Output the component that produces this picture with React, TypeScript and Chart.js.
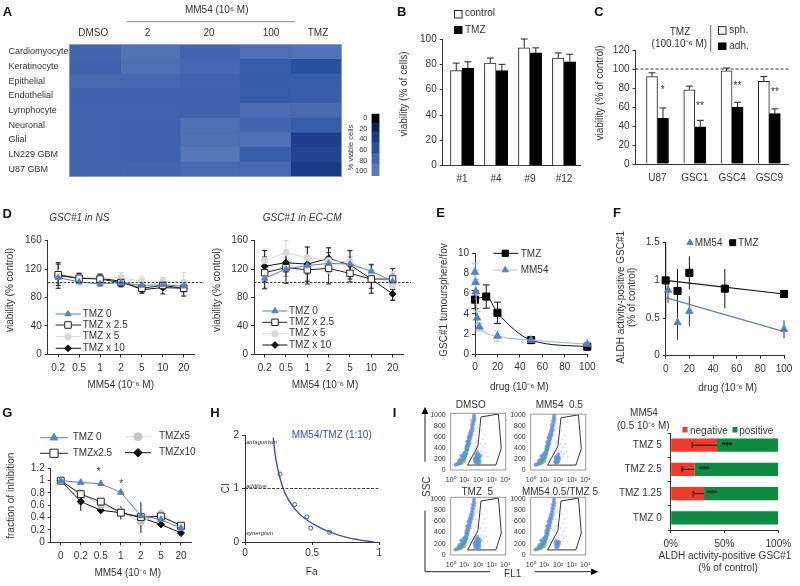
import React, { useEffect, useRef } from "react";
import { Chart, registerables } from "chart.js";
import { drawPoint } from "chart.js/helpers";

Chart.register(...registerables);

const FONT = "'Liberation Sans', Arial, sans-serif";
const INK = "#333333";
const BLUE = "#5b7fc1";

// ---------- A: heat map ----------
const heatRows = ["Cardiomyocyte", "Keratinocyte", "Epithelial", "Endothelial", "Lymphocyte", "Neuronal", "Glial", "LN229 GBM", "U87 GBM"];
const heatColumns = ["DMSO", "2", "20", "100", "TMZ"];
const heatColumnEdges = [0, 18.9, 40.7, 62.6, 81.3, 100];
const heatDMSO = [80, 77, 84, 78, 79, 79, 79, 79, 79];
const heat2 = [93, 90, 83, 77, 79, 78, 78, 78, 80];
const heat20 = [80, 83, 79, 77, 78, 92, 90, 97, 85];
const heat100 = [90, 72, 70, 71, 88, 80, 92, 72, 85];
const heatTMZ = [93, 60, 72, 73, 85, 72, 45, 50, 40];
const heatStopValues = [0, 20, 40, 60, 80, 100];
const heatStopColors = ["#000000", "#0e2250", "#1a3a85", "#2a50a0", "#4265ae", "#5a7aba"];
const barLegendEdges = [-8, 8, 25, 45, 65, 85, 109];
const barLegendTicks = [0, 20, 40, 60, 80, 100];

// ---------- B ----------
const bCats = ["#1", "#4", "#9", "#12"];
const bControl = [75, 81, 93, 85];
const bControlTop = [81, 85, 100, 89];
const bTMZ = [77, 75, 89, 82];
const bTMZTop = [82, 80, 93, 88];

// ---------- C ----------
const cCats = ["U87", "GSC1", "GSC4", "GSC9"];
const cSph = [92, 78, 98, 87];
const cSphTop = [96, 82, 101, 92];
const cAdh = [48, 39, 60, 53];
const cAdhTop = [59, 46, 65, 58];

// ---------- D ----------
const dDoses = ["0.2", "0.5", "1", "2", "5", "10", "20"];
const d1T0 = [108, 102, 99, 101, 97, 98, 96];
const d1T25 = [112, 107, 106, 101, 93, 97, 93];
const d1T5 = [114, 108, 107, 108, 103, 103, 101];
const d1T10 = [111, 107, 107, 103, 91, 94, 93];
const d1E0 = [8, 3, 3, 3, 5, 5, 5];
const d1E25 = [15, 6, 6, 5, 5, 5, 5];
const d1E5 = [15, 7, 6, 7, 6, 5, 14];
const d1E10 = [18, 7, 6, 8, 5, 9, 11];
const d2T0 = [107, 120, 125, 128, 127, 117, 103];
const d2T25 = [115, 122, 119, 121, 114, 106, 106];
const d2T5 = [132, 143, 136, 132, 130, 116, 97];
const d2T10 = [124, 129, 127, 135, 126, 106, 85];
const d2E0 = [15, 10, 12, 10, 10, 10, 10];
const d2E25 = [22, 22, 20, 22, 12, 13, 15];
const d2E5 = [15, 17, 16, 18, 16, 10, 20];
const d2E10 = [22, 13, 24, 15, 20, 20, 9];

// ---------- E ----------
const eTmzX = [0, 10, 20, 50, 100];
const eTmzY = [5.4, 5.7, 4.1, 1.4, 0.75];
const eTmzE = [0.9, 1.15, 1.05, 0.25, 0.2];
const eMmX = [0, 0.5, 0.8, 1.8, 3.9, 20, 50, 100];
const eMmY = [8.1, 7.1, 6.2, 3.6, 2.7, 1.8, 1.4, 1.0];
const eMmE = [0.9, 1.2, 1.2, 0.6, 0.4, 0.5, 0.2, 0.2];

// ---------- F ----------
const fTmzX = [0, 10, 20, 50, 100];
const fTmzY = [1.0, 0.86, 1.1, 0.89, 0.82];
const fTmzE = [0.5, 0.29, 0.22, 0.26, 0.05];
const fMmX = [2, 10, 20, 100];
const fMmY = [0.87, 0.44, 0.59, 0.35];
const fMmE = [0.17, 0.23, 0.2, 0.12];
const fTmzTrendX = [0, 100];
const fTmzTrendY = [1.0, 0.82];
const fMmTrendX = [0, 100];
const fMmTrendY = [0.77, 0.32];

// ---------- G ----------
const gDoses = ["0", "0.2", "0.5", "1", "2", "5", "20"];
const gT0 = [1, 0.97, 0.95, 0.81, 0.43, 0.37, 0.23];
const gT25 = [1, 0.78, 0.66, 0.48, 0.41, 0.42, 0.27];
const gT5 = [1, 0.8, 0.6, 0.5, 0.33, 0.47, 0.25];
const gT10 = [1, 0.66, 0.52, 0.48, 0.4, 0.29, 0.15];
const gE0 = [0.03, 0.03, 0.03, 0.04, 0.04, 0.05, 0.04];
const gE25 = [0.03, 0.04, 0.03, 0.05, 0.05, 0.05, 0.04];
const gE5 = [0.03, 0.05, 0.05, 0.05, 0.08, 0.05, 0.04];
const gE10 = [0.05, 0.15, 0.05, 0.11, 0.25, 0.05, 0.04];

// ---------- H ----------
const hCurveFa = [0.21, 0.23, 0.26, 0.3, 0.37, 0.45, 0.55, 0.65, 0.75, 0.85, 0.96];
const hCurveCI = [1.95, 1.55, 1.2, 0.9, 0.62, 0.43, 0.28, 0.17, 0.09, 0.04, 0];
const hPointFa = [0.26, 0.37, 0.46, 0.49, 0.63];
const hPointCI = [1.27, 0.7, 0.47, 0.26, 0.18];

// ---------- I: flow plots ----------
const flowTickLabels = ["10⁰", "10¹", "10²", "10³", "10⁴"];
const flowXTicks = [1, 10, 100, 1000, 10000];
const flowYTicks = [0, 200, 400, 600, 800, 1000];
const gateFL1 = [17, 98, 163, 3090, 5000, 2000, 17];
const gateSSC = [90, 433, 957, 1012, 390, 90, 90];
const flowSparse = [[30, 900], [45, 980], [60, 870], [70, 640], [90, 520], [120, 610], [150, 480], [180, 720], [220, 560], [110, 360], [250, 420], [300, 640], [85, 760], [55, 720], [40, 640], [65, 500], [130, 300], [170, 340], [200, 250], [260, 300], [340, 480], [400, 330], [500, 240], [75, 420], [35, 480], [25, 700], [28, 820], [50, 1000]];
const flowBlue = [[9, 290], [13, 330], [14, 420], [17, 460], [16, 510], [22, 480], [24, 560], [20, 590], [28, 580], [26, 660], [33, 640], [30, 720], [36, 700], [35, 780], [40, 750], [38, 840], [45, 820], [43, 900], [50, 880], [48, 960], [55, 930], [52, 1000], [3, 105], [2.6, 100], [3.4, 120], [2.2, 98], [5, 190], [4, 165], [7, 230], [6, 260]];
const flowTeal = [[4, 118], [4.6, 128], [5.4, 150], [6.4, 175], [7.6, 200], [9, 220], [8.4, 250], [10.5, 250], [12, 280], [11, 310], [13.5, 300], [15, 350], [14, 380], [17, 390], [18, 430], [16, 440], [20, 470], [19, 520], [23, 530], [22, 600], [26, 620], [29, 670]];
const flowCore = [[5.2, 122], [6, 132], [7, 145], [8, 160], [7.2, 175], [9, 180], [10, 205], [9, 150], [10.5, 170], [11.5, 225]];
const flowCluster = [[90, 210], [80, 190], [100, 230], [70, 170], [110, 180], [85, 250], [95, 140], [65, 230], [120, 220], [75, 130], [105, 290], [60, 150], [130, 160], [88, 320], [115, 110], [55, 200], [140, 260], [72, 280], [98, 170], [82, 230]];

// ---------- I: stacked bars ----------
const iCats = ["TMZ 5", "TMZ 2.5", "TMZ 1.25", "TMZ 0"];
const iNegative = [43, 22, 31, 0];
const iPositive = [57, 78, 69, 100];
const iErrLow = [20, 10.5, 21, 0];

// ---------- helpers ----------
type Rect = [number, number, number, number];
const zip = (xs: number[], ys: number[]) => xs.map((x, i) => ({ x, y: ys[i] }));
const pts = (a: number[][]) => a.map(([x, y]) => ({ x, y }));
const add = (a: number[], b: number[]) => a.map((v, i) => +(v + b[i]).toFixed(3));
const sub = (a: number[], b: number[]) => a.map((v, i) => +(v - b[i]).toFixed(3));

function viabilityColor(v: number) {
  const i = Math.min(Math.floor(v / 20), heatStopValues.length - 2);
  const t = (v - heatStopValues[i]) / 20;
  const hex = (c: string, k: number) => parseInt(c.slice(1 + k * 2, 3 + k * 2), 16);
  const mix = (k: number) => Math.round(hex(heatStopColors[i], k) * (1 - t) + hex(heatStopColors[i + 1], k) * t);
  return `rgb(${mix(0)},${mix(1)},${mix(2)})`;
}

function axis(extra: any = {}) {
  const { ticks, grid, border, ...rest } = extra;
  return {
    grid: { display: true, drawOnChartArea: false, drawTicks: true, tickLength: 3, color: INK, offset: false, ...grid },
    border: { display: true, color: INK, width: 1, ...border },
    ticks: { font: { family: FONT, size: 10 }, color: INK, padding: 3, maxRotation: 0, minRotation: 0, autoSkip: false, ...ticks },
    ...rest,
  };
}

type Txt = { t: string; x: number; y: number; size?: number; weight?: string; italic?: boolean; color?: string; align?: CanvasTextAlign; rot?: number };
type Spec = {
  box: Rect;
  area: Rect;
  yAxisWidth?: number;
  config: any;
  texts?: Txt[];
  lines?: { x1: number; y1: number; x2: number; y2: number; color?: string; width?: number; dash?: number[] }[];
  rects?: { x: number; y: number; w: number; h: number; fill: string; stroke?: string }[];
  marks?: { x: number; y: number; style: string; r: number; fill: string; stroke?: string; bw?: number }[];
  polys?: { pts: number[][]; fill: string }[];
  refLines?: { value: number; x1: number; x2: number; color: string; dash: number[]; width?: number }[];
  errors?: { ds: number; lo: number[]; hi: number[]; color: string; caps?: string; cap?: number; horizontal?: boolean; after?: boolean; width?: number }[];
  frame?: string;
  underlay?: string;
};

const letter = (t: string, x: number, y: number): Txt => ({ t, x, y, size: 13, weight: "bold", color: "#111", align: "center" });
const yTitle = (t: string, x: number, y: number, size = 10): Txt => ({ t, x, y, rot: -90, align: "center", size });
const xTitle = (t: string, x: number, y: number): Txt => ({ t, x, y, align: "center" });

function overlay(s: Spec) {
  const errs = (chart: any, after: boolean) => {
    const ctx = chart.ctx;
    ctx.save();
    for (const e of s.errors || []) {
      if (!!e.after !== after) continue;
      const meta = chart.getDatasetMeta(e.ds);
      ctx.strokeStyle = e.color;
      ctx.lineWidth = e.width || 1;
      const cap = e.cap ?? 2.5;
      const caps = e.caps || "both";
      meta.data.forEach((el: any, j: number) => {
        if (e.hi[j] == null || e.lo[j] === e.hi[j]) return;
        ctx.beginPath();
        if (e.horizontal) {
          const a = chart.scales.x.getPixelForValue(e.lo[j]);
          const b = chart.scales.x.getPixelForValue(e.hi[j]);
          ctx.moveTo(a, el.y); ctx.lineTo(b, el.y);
          if (caps !== "hi") { ctx.moveTo(a, el.y - cap); ctx.lineTo(a, el.y + cap); }
          if (caps !== "lo") { ctx.moveTo(b, el.y - cap); ctx.lineTo(b, el.y + cap); }
        } else {
          const a = chart.scales.y.getPixelForValue(e.lo[j]);
          const b = chart.scales.y.getPixelForValue(e.hi[j]);
          ctx.moveTo(el.x, a); ctx.lineTo(el.x, b);
          if (caps !== "hi") { ctx.moveTo(el.x - cap, a); ctx.lineTo(el.x + cap, a); }
          if (caps !== "lo") { ctx.moveTo(el.x - cap, b); ctx.lineTo(el.x + cap, b); }
        }
        ctx.stroke();
      });
    }
    ctx.restore();
  };
  return {
    id: "overlay",
    beforeDatasetsDraw(chart: any) {
      if (s.underlay) {
        const a = chart.chartArea;
        chart.ctx.save();
        chart.ctx.fillStyle = s.underlay;
        chart.ctx.fillRect(a.left, a.top, a.right - a.left, a.bottom - a.top);
        chart.ctx.restore();
      }
      errs(chart, false);
    },
    afterDatasetsDraw(chart: any) {
      errs(chart, true);
      const ctx = chart.ctx;
      ctx.save();
      if (s.frame) {
        const a = chart.chartArea;
        ctx.strokeStyle = s.frame;
        ctx.lineWidth = 1;
        ctx.strokeRect(a.left, a.top, a.right - a.left, a.bottom - a.top);
      }
      ctx.translate(-s.box[0], -s.box[1]);
      for (const r of s.refLines || []) {
        const y = chart.scales.y.getPixelForValue(r.value) + s.box[1];
        ctx.strokeStyle = r.color;
        ctx.lineWidth = r.width || 1;
        ctx.setLineDash(r.dash);
        ctx.beginPath(); ctx.moveTo(r.x1, y); ctx.lineTo(r.x2, y); ctx.stroke();
      }
      ctx.restore();
    },
    afterDraw(chart: any) {
      const ctx = chart.ctx;
      ctx.save();
      ctx.translate(-s.box[0], -s.box[1]);
      for (const l of s.lines || []) {
        ctx.strokeStyle = l.color || INK;
        ctx.lineWidth = l.width || 1;
        ctx.setLineDash(l.dash || []);
        ctx.beginPath(); ctx.moveTo(l.x1, l.y1); ctx.lineTo(l.x2, l.y2); ctx.stroke();
      }
      ctx.setLineDash([]);
      for (const p of s.polys || []) {
        ctx.fillStyle = p.fill;
        ctx.beginPath();
        p.pts.forEach(([x, y], i) => (i ? ctx.lineTo(x, y) : ctx.moveTo(x, y)));
        ctx.closePath();
        ctx.fill();
      }
      for (const r of s.rects || []) {
        ctx.fillStyle = r.fill;
        ctx.fillRect(r.x, r.y, r.w, r.h);
        if (r.stroke) { ctx.strokeStyle = r.stroke; ctx.lineWidth = 1; ctx.strokeRect(r.x, r.y, r.w, r.h); }
      }
      for (const m of s.marks || []) {
        ctx.fillStyle = m.fill;
        ctx.strokeStyle = m.stroke || m.fill;
        ctx.lineWidth = m.bw ?? 1;
        drawPoint(ctx, { pointStyle: m.style, radius: m.r, rotation: 0, borderWidth: m.bw ?? 1 }, m.x, m.y);
      }
      for (const t of s.texts || []) {
        ctx.save();
        ctx.translate(t.x, t.y);
        if (t.rot) ctx.rotate((t.rot * Math.PI) / 180);
        ctx.font = `${t.italic ? "italic " : ""}${t.weight || "normal"} ${t.size || 10}px ${FONT}`;
        ctx.fillStyle = t.color || INK;
        ctx.textAlign = t.align || "left";
        ctx.textBaseline = "middle";
        ctx.fillText(t.t, 0, 0);
        ctx.restore();
      }
      ctx.restore();
    },
  };
}

function Panel({ spec }: { spec: Spec }) {
  const ref = useRef<HTMLCanvasElement>(null);
  useEffect(() => {
    const [bl, bt, br, bb] = spec.box;
    const [al, at, ar, ab] = spec.area;
    const src = spec.config.options.scales;
    // each visible axis takes the whole margin beside the plot, because tick labels are clipped to the axis box
    const xShown = src.x.display !== false;
    const yShown = src.y.display !== false;
    const yW = yShown ? spec.yAxisWidth ?? al - bl : 0;
    const xH = xShown ? bb - ab : 0;
    const scales = {
      x: { ...src.x, afterFit(s: any) { s.height = xH; } },
      y: { ...src.y, afterFit(s: any) { s.width = yW; } },
    };
    const chart = new Chart(ref.current as any, {
      ...spec.config,
      options: {
        responsive: false,
        animation: false,
        maintainAspectRatio: false,
        layout: { padding: { left: al - bl - yW, top: at - bt, right: br - ar, bottom: bb - ab - xH } },
        plugins: { legend: { display: false }, tooltip: { enabled: false } },
        ...spec.config.options,
        scales,
      },
      plugins: [overlay(spec)],
    });
    return () => chart.destroy();
  }, []);
  const [l, t, r, b] = spec.box;
  return (
    <canvas ref={ref} width={r - l} height={b - t} style={{ position: "absolute", left: l, top: t, width: r - l, height: b - t, display: "block" }} />
  );
}

// ---------- series look ----------
const looks = [
  { color: BLUE, pointStyle: "triangle", r: 3.6, fill: BLUE },
  { color: "#222222", pointStyle: "rect", r: 4.6, fill: "#ffffff" },
  { color: "#d9d9d9", pointStyle: "circle", r: 3.2, fill: "#d9d9d9" },
  { color: "#111111", pointStyle: "rectRot", r: 3.4, fill: "#111111" },
];
function lineSet(label: string, data: any[], k: number, scale = 1) {
  const l = looks[k];
  return {
    label, data, borderColor: l.color, borderWidth: 1, pointStyle: l.pointStyle, pointRadius: l.r * scale,
    pointBackgroundColor: l.fill, pointBorderColor: l.color, pointBorderWidth: 1, tension: 0, clip: false,
  };
}
function legendRow(s: { x1: number; x2: number; mx: number; tx: number }, rows: { label: string; y: number; k: number }[], scale = 1) {
  return {
    lines: rows.map((r) => ({ x1: s.x1, y1: r.y, x2: s.x2, y2: r.y, color: looks[r.k].color })),
    marks: rows.map((r) => ({ x: s.mx, y: r.y, style: looks[r.k].pointStyle, r: looks[r.k].r * scale, fill: looks[r.k].fill, stroke: looks[r.k].color })),
    texts: rows.map((r) => ({ t: r.label, x: s.tx, y: r.y })) as Txt[],
  };
}

// ---------- panels ----------
const heatColumnValues = [heatDMSO, heat2, heat20, heat100, heatTMZ];
const heatColumnCenters = [93.3, 147.6, 209, 271, 318];

const panelA: Spec = {
  box: [0, 0, 348, 190],
  area: [69.5, 44.5, 341.5, 176.5],
  yAxisWidth: 61,
  underlay: "#4265ae",
  frame: "#7d9bd2",
  config: {
    type: "bar",
    data: {
      labels: heatRows,
      datasets: heatColumnValues.map((vals, c) => ({
        label: heatColumns[c],
        data: vals.map(() => [heatColumnEdges[c], heatColumnEdges[c + 1]]),
        backgroundColor: vals.map(viabilityColor),
        grouped: false,
        borderWidth: 0,
        barPercentage: 1.01,
        categoryPercentage: 1,
      })),
    },
    options: {
      indexAxis: "y",
      scales: {
        x: axis({ min: 0, max: 100, display: false }),
        y: axis({
          grid: { drawTicks: false, display: false },
          border: { display: false },
          ticks: { crossAlign: "far", font: { family: FONT, size: 9 }, padding: 0 },
        }),
      },
    },
  },
  texts: [
    letter("A", 7.5, 12.5),
    { t: "MM54 (10⁶ M)", x: 216.7, y: 10, align: "center" },
    ...heatColumns.map((t, i) => ({ t, x: heatColumnCenters[i], y: 33, align: "center" as const })),
  ],
  lines: [{ x1: 126.7, y1: 21.7, x2: 295, y2: 21.7, color: "#888888" }],
};

const panelScale: Spec = {
  box: [348, 105, 392, 185],
  area: [371.5, 113.7, 379.5, 176],
  config: {
    type: "bar",
    data: {
      labels: ["% viable cells"],
      datasets: barLegendTicks.map((v, i) => ({
        data: [[barLegendEdges[i], barLegendEdges[i + 1]]],
        backgroundColor: viabilityColor(v),
        grouped: false,
        borderWidth: 0,
        barPercentage: 1,
        categoryPercentage: 1,
      })),
    },
    options: {
      scales: {
        x: axis({ display: false }),
        y: axis({
          min: -8,
          max: 109,
          reverse: true,
          grid: { display: false },
          border: { display: false },
          ticks: { font: { family: FONT, size: 7.5 }, padding: 1, callback: (v: number) => String(v) },
          afterBuildTicks(s: any) { s.ticks = barLegendTicks.map((value) => ({ value })); },
        }),
      },
    },
  },
  texts: [yTitle("% viable cells", 351, 147.5, 7.5)],
};

function groupedBars(cats: string[], a: number[], b: number[], la: string, lb: string, xMin: number, xMax: number, yMax: number, thickness: number) {
  return {
    type: "bar",
    data: {
      datasets: [
        { label: la, data: a.map((y, x) => ({ x, y })), backgroundColor: "#ffffff", borderColor: "#222222", borderWidth: 1, barThickness: thickness },
        { label: lb, data: b.map((y, x) => ({ x, y })), backgroundColor: "#000000", borderColor: "#000000", borderWidth: 1, barThickness: thickness },
      ],
    },
    options: {
      scales: {
        x: axis({
          type: "linear", min: xMin, max: xMax, offset: false,
          grid: { drawTicks: false },
          ticks: { stepSize: 1, padding: 8, callback: (v: number) => cats[v] ?? "" },
          afterBuildTicks(s: any) { s.ticks = cats.map((_, value) => ({ value })); },
        }),
        y: axis({ min: 0, max: yMax, ticks: { stepSize: 20 } }),
      },
    },
  };
}

const panelB: Spec = {
  box: [392, 0, 592, 190],
  area: [442.7, 39, 580, 165.7],
  config: groupedBars(bCats, bControl, bTMZ, "control", "TMZ", -0.57, 3.47, 100, 11.6),
  errors: [
    { ds: 0, lo: bControl, hi: bControlTop, color: "#222", caps: "hi", cap: 3.5 },
    { ds: 1, lo: bTMZ, hi: bTMZTop, color: "#222", caps: "hi", cap: 3.5 },
  ],
  rects: [
    { x: 454.5, y: 10.5, w: 7.5, h: 7.5, fill: "#ffffff", stroke: "#222" },
    { x: 454, y: 26, w: 8.5, h: 8, fill: "#000000" },
  ],
  texts: [
    letter("B", 401.7, 12.5),
    { t: "control", x: 465, y: 13.5 },
    { t: "TMZ", x: 465, y: 30 },
    yTitle("viability (% of cells)", 404, 94),
  ],
};

const panelC: Spec = {
  box: [592, 0, 800, 190],
  area: [635.5, 50, 788, 164],
  config: groupedBars(cCats, cSph, cAdh, "sph.", "adh.", -0.59, 3.5, 120, 11),
  errors: [
    { ds: 0, lo: cSph, hi: cSphTop, color: "#222", caps: "hi", cap: 3.5 },
    { ds: 1, lo: cAdh, hi: cAdhTop, color: "#222", caps: "hi", cap: 3.5 },
  ],
  refLines: [{ value: 100, x1: 635.5, x2: 790, color: "#333", dash: [3, 2] }],
  rects: [
    { x: 718.5, y: 26.7, w: 7.5, h: 7.5, fill: "#ffffff", stroke: "#222" },
    { x: 718, y: 42.5, w: 8.5, h: 7.5, fill: "#000000" },
  ],
  lines: [{ x1: 710.7, y1: 25, x2: 710.7, y2: 51.7, color: "#666" }],
  texts: [
    letter("C", 599, 12.5),
    { t: "TMZ", x: 680, y: 32.3, align: "center" },
    { t: "(100.10⁻⁶ M)", x: 679.3, y: 44.3, align: "center" },
    { t: "sph.", x: 729.3, y: 30 },
    { t: "adh.", x: 729.3, y: 46 },
    yTitle("viability (% of control)", 600, 93),
    { t: "*", x: 662.7, y: 90, align: "center" },
    { t: "**", x: 700, y: 106, align: "center" },
    { t: "**", x: 737.5, y: 86, align: "center" },
    { t: "**", x: 775, y: 92, align: "center" },
  ],
};

function doseChart(labels: string[], series: { label: string; data: number[] }[], yMax: number, step: number, pad: number, scale = 1, fmt?: (v: number) => string) {
  return {
    type: "line",
    data: { labels, datasets: series.map((s, k) => lineSet(s.label, s.data, k, scale)) },
    options: {
      scales: {
        x: axis({ offset: true, ticks: { padding: pad } }),
        y: axis({ min: 0, max: yMax, ticks: { stepSize: step, callback: fmt || ((v: number) => String(v)) } }),
      },
    },
  };
}
const errBars = (vals: number[][], errs: number[][], colors: string[], cap = 2.5) =>
  vals.map((v, k) => ({ ds: k, lo: sub(v, errs[k]), hi: add(v, errs[k]), color: colors[k], cap }));

const dRows = ["TMZ 0", "TMZ x 2.5", "TMZ x 5", "TMZ x 10"];
const dColors = ["#5b7fc1", "#222222", "#cfcfcf", "#111111"];
const d1Legend = legendRow({ x1: 55.7, x2: 81, mx: 68, tx: 82.7 }, dRows.map((label, k) => ({ label, k, y: [314, 325, 336.7, 348.3][k] })));
const panelD1: Spec = {
  box: [0, 195, 206, 392],
  area: [47.7, 240.7, 194.2, 354.3],
  config: doseChart(dDoses, dRows.map((label, k) => ({ label, data: [d1T0, d1T25, d1T5, d1T10][k] })), 160, 40, 5),
  errors: errBars([d1T0, d1T25, d1T5, d1T10], [d1E0, d1E25, d1E5, d1E10], dColors),
  refLines: [{ value: 101, x1: 47.7, x2: 204, color: "#333", dash: [2.5, 1.5] }],
  lines: d1Legend.lines,
  marks: d1Legend.marks,
  texts: [
    letter("D", 7.3, 214),
    { t: "GSC#1 in NS", x: 49.3, y: 218, italic: true },
    yTitle("viability (% control)", 10, 290),
    xTitle("MM54 (10⁻⁶ M)", 120.7, 385),
    ...d1Legend.texts,
  ],
};

const d2Legend = legendRow({ x1: 262.3, x2: 287.3, mx: 275, tx: 289 }, dRows.map((label, k) => ({ label, k, y: [311, 322.3, 333.7, 345][k] })));
const panelD2: Spec = {
  box: [206, 195, 412, 392],
  area: [254, 240.7, 403.3, 354.3],
  config: doseChart(dDoses, dRows.map((label, k) => ({ label, data: [d2T0, d2T25, d2T5, d2T10][k] })), 160, 40, 5),
  errors: errBars([d2T0, d2T25, d2T5, d2T10], [d2E0, d2E25, d2E5, d2E10], dColors),
  refLines: [{ value: 101, x1: 254, x2: 411, color: "#333", dash: [2.5, 1.5] }],
  lines: d2Legend.lines,
  marks: d2Legend.marks,
  texts: [
    { t: "GSC#1 in EC-CM", x: 262.7, y: 218, italic: true },
    yTitle("viability (% control)", 217, 290),
    xTitle("MM54 (10⁻⁶ M)", 325, 385),
    ...d2Legend.texts,
  ],
};

const panelE: Spec = {
  box: [412, 195, 612, 395],
  area: [475, 253, 587.3, 354.3],
  config: {
    type: "scatter",
    data: {
      datasets: [
        { label: "MM54", data: zip(eMmX, eMmY), showLine: true, borderColor: "#a6c4e6", borderWidth: 1.2, cubicInterpolationMode: "monotone", pointStyle: "triangle", pointRadius: 4, pointBackgroundColor: BLUE, pointBorderColor: BLUE, clip: false },
        { label: "TMZ", data: zip(eTmzX, eTmzY), showLine: true, borderColor: "#111", borderWidth: 1, cubicInterpolationMode: "monotone", pointStyle: "rect", pointRadius: 5, pointBackgroundColor: "#000", pointBorderColor: "#000", clip: false },
      ],
    },
    options: {
      scales: {
        x: axis({ type: "linear", min: 0, max: 100, ticks: { stepSize: 20, padding: 4 } }),
        y: axis({ min: 0, max: 10, ticks: { stepSize: 2 } }),
      },
    },
  },
  errors: [
    { ds: 0, lo: sub(eMmY, eMmE), hi: add(eMmY, eMmE), color: "#a6c4e6", cap: 3.5 },
    { ds: 1, lo: sub(eTmzY, eTmzE), hi: add(eTmzY, eTmzE), color: "#111", cap: 3.5 },
  ],
  lines: [
    { x1: 493.3, y1: 253.3, x2: 518.3, y2: 253.3, color: "#111" },
    { x1: 493.3, y1: 270, x2: 518.3, y2: 270, color: "#a6c4e6" },
  ],
  marks: [
    { x: 505.3, y: 253.3, style: "rect", r: 4.4, fill: "#000" },
    { x: 505.3, y: 270, style: "triangle", r: 3.6, fill: BLUE },
  ],
  texts: [
    letter("E", 440.7, 213),
    { t: "TMZ", x: 520.7, y: 254 },
    { t: "MM54", x: 520.7, y: 270.5 },
    yTitle("GSC#1 tumoursphere/fov", 444.3, 300),
    xTitle("drug (10⁻⁶ M)", 519.3, 387),
  ],
};

const panelF: Spec = {
  box: [612, 195, 800, 395],
  area: [665.7, 242.7, 784, 355.7],
  config: {
    type: "scatter",
    data: {
      datasets: [
        { label: "MM54 trend", data: zip(fMmTrendX, fMmTrendY), showLine: true, borderColor: BLUE, borderWidth: 1.2, pointRadius: 0, clip: false },
        { label: "TMZ trend", data: zip(fTmzTrendX, fTmzTrendY), showLine: true, borderColor: "#111", borderWidth: 1.1, pointRadius: 0, clip: false },
        { label: "MM54", data: zip(fMmX, fMmY), pointStyle: "triangle", pointRadius: 4.2, pointBackgroundColor: BLUE, pointBorderColor: BLUE, clip: false },
        { label: "TMZ", data: zip(fTmzX, fTmzY), pointStyle: "rect", pointRadius: 5, pointBackgroundColor: "#000", pointBorderColor: "#000", clip: false },
      ],
    },
    options: {
      scales: {
        x: axis({ type: "linear", min: 0, max: 100, ticks: { stepSize: 20, padding: 5 } }),
        y: axis({ min: 0, max: 1.5, ticks: { stepSize: 0.5, callback: (v: number) => String(v) } }),
      },
    },
  },
  errors: [
    { ds: 2, lo: sub(fMmY, fMmE), hi: add(fMmY, fMmE), color: "#333", cap: 0 },
    { ds: 3, lo: sub(fTmzY, fTmzE), hi: add(fTmzY, fTmzE), color: "#111", cap: 0 },
  ],
  marks: [
    { x: 690, y: 242.7, style: "triangle", r: 3.6, fill: BLUE },
    { x: 732.7, y: 242.7, style: "rect", r: 4.2, fill: "#000" },
  ],
  texts: [
    letter("F", 617, 213),
    { t: "MM54", x: 694.7, y: 243 },
    { t: "TMZ", x: 738, y: 243 },
    yTitle("ALDH activity-positive GSC#1", 621.7, 297.3),
    yTitle("(% of control)", 632.3, 297.3),
    xTitle("drug (10⁻⁶ M)", 727.7, 388),
  ],
};

const gRows = ["TMZ 0", "TMZx2.5", "TMZx5", "TMZx10"];
const gColors = ["#5b7fc1", "#222222", "#bdbdbd", "#111111"];
const gLegendA = legendRow({ x1: 40, x2: 68, mx: 54, tx: 72.7 }, [{ label: gRows[0], k: 0, y: 437.7 }, { label: gRows[1], k: 1, y: 453.3 }], 1.25);
const gLegendB = legendRow({ x1: 125, x2: 151, mx: 138, tx: 159 }, [{ label: gRows[2], k: 2, y: 436.7 }, { label: gRows[3], k: 3, y: 452.7 }], 1.25);
const gConfig: any = doseChart(gDoses, gRows.map((label, k) => ({ label, data: [gT0, gT25, gT5, gT10][k] })), 1.2, 0.2, 5, 1.05, (v: number) => String(+v.toFixed(1)));
const gLookSwap = gConfig.data.datasets[2];
gLookSwap.pointBackgroundColor = "#c4c4c4";
gLookSwap.pointBorderColor = "#c4c4c4";
gLookSwap.borderColor = "#c4c4c4";
const panelG: Spec = {
  box: [0, 395, 206, 586],
  area: [50.7, 468.3, 191, 542.3],
  config: gConfig,
  errors: errBars([gT0, gT25, gT5, gT10], [gE0, gE25, gE5, gE10], gColors, 0),
  lines: [...gLegendA.lines, ...gLegendB.lines],
  marks: [
    ...gLegendA.marks,
    ...gLegendB.marks.map((m) => (m.style === "circle" ? { ...m, fill: "#c4c4c4", stroke: "#c4c4c4" } : m)),
  ],
  texts: [
    letter("G", 7.3, 413),
    ...gLegendA.texts,
    ...gLegendB.texts,
    { t: "*", x: 98.7, y: 472, align: "center" },
    { t: "*", x: 121.3, y: 484, align: "center" },
    yTitle("fraction of inhibition", 11.7, 495.7),
    xTitle("MM54 (10⁻⁶ M)", 127.7, 573.3),
  ],
};

const HBLUE = "#3b53a4";
const panelH: Spec = {
  box: [206, 395, 392, 586],
  area: [245, 435, 379.3, 542],
  config: {
    type: "scatter",
    data: {
      datasets: [
        { label: "fit", data: zip(hCurveFa, hCurveCI), showLine: true, tension: 0.4, borderColor: HBLUE, borderWidth: 1.4, pointRadius: 0, clip: false },
        { label: "MM54/TMZ (1:10)", data: zip(hPointFa, hPointCI), pointStyle: "circle", pointRadius: 2, pointBackgroundColor: "#ffffff", pointBorderColor: HBLUE, pointBorderWidth: 1, clip: false },
      ],
    },
    options: {
      scales: {
        x: axis({ type: "linear", min: 0, max: 1, ticks: { stepSize: 0.5, padding: 2, callback: (v: number) => String(v) } }),
        y: axis({ min: 0, max: 2, ticks: { stepSize: 1 } }),
      },
    },
  },
  refLines: [{ value: 1, x1: 245, x2: 380, color: "#444", dash: [3, 1.5], width: 1.2 }],
  texts: [
    letter("H", 215, 413),
    { t: "MM54/TMZ (1:10)", x: 291.7, y: 435, color: HBLUE, size: 10 },
    { t: "antagonism", x: 246, y: 442, size: 6, italic: true },
    { t: "additive", x: 246, y: 486, size: 6, italic: true },
    { t: "synergism", x: 246, y: 533, size: 6, italic: true },
    yTitle("CI", 226, 488.3),
    xTitle("Fa", 311.7, 572.3),
  ],
};

function flowChart(clusterCount: number) {
  const layer = (data: number[][], color: string, r: number) => ({ data: pts(data), pointRadius: r, pointBackgroundColor: color, pointBorderWidth: 0, clip: false });
  return {
    type: "scatter",
    data: {
      datasets: [
        layer(flowSparse, "rgba(150,150,225,0.45)", 0.9),
        layer(flowBlue, "rgba(111,147,216,0.85)", 1.9),
        layer(flowCluster.slice(0, clusterCount), "rgba(94,146,210,0.75)", 2),
        layer(flowTeal, "rgba(63,163,180,0.9)", 2),
        layer(flowCore, "#9dc45e", 1.9),
        { data: zip(gateFL1, gateSSC), showLine: true, borderColor: "#333", borderWidth: 1, pointRadius: 0, clip: false },
      ],
    },
    options: {
      scales: {
        x: axis({
          type: "logarithmic", min: 1, max: 10500,
          grid: { display: false }, border: { display: false },
          ticks: { font: { family: FONT, size: 7 }, padding: 3, callback: (v: number) => flowTickLabels[flowXTicks.indexOf(v)] ?? "" },
          afterBuildTicks(s: any) { s.ticks = flowXTicks.map((value) => ({ value })); },
        }),
        y: axis({
          min: 0, max: 1024,
          grid: { display: false }, border: { display: false },
          ticks: { font: { family: FONT, size: 7 }, padding: 2, callback: (v: number) => String(v) },
          afterBuildTicks(s: any) { s.ticks = flowYTicks.map((value) => ({ value })); },
        }),
      },
    },
  };
}

const panelI1: Spec = {
  box: [392, 395, 612, 586],
  area: [450.7, 413.3, 505.7, 470],
  frame: "#999999",
  config: flowChart(20),
  lines: [
    { x1: 425, y1: 412, x2: 425, y2: 461.7, color: "#222" },
    { x1: 425, y1: 510.7, x2: 425, y2: 571.7, color: "#222" },
    { x1: 425, y1: 571.7, x2: 490, y2: 571.7, color: "#222" },
    { x1: 535, y1: 571.7, x2: 592, y2: 571.7, color: "#222" },
  ],
  polys: [
    { pts: [[425, 407], [421.5, 414], [428.5, 414]], fill: "#000" },
    { pts: [[598.5, 571.7], [591, 568.5], [591, 575]], fill: "#000" },
  ],
  texts: [
    letter("I", 394.5, 413),
    { t: "DMSO", x: 470.7, y: 405, align: "center" },
    { t: "MM54  0.5", x: 559.3, y: 405, align: "center" },
    { t: "TMZ  5", x: 477.3, y: 492.7, align: "center" },
    { t: "MM54 0.5/TMZ 5", x: 560, y: 492.7, align: "center" },
    yTitle("SSC", 427.3, 486.7),
    { t: "FL1", x: 512.7, y: 574.3, align: "center" },
  ],
};
const panelI2: Spec = { box: [508, 408, 600, 485], area: [530.7, 413.3, 585.7, 470], frame: "#999999", config: flowChart(12) };
const panelI3: Spec = { box: [430, 490, 515, 570], area: [450.7, 497.3, 505.7, 555], frame: "#999999", config: flowChart(20) };
const panelI4: Spec = { box: [508, 490, 600, 570], area: [530.7, 497.3, 585.7, 555], frame: "#999999", config: flowChart(10) };

const panelIBars: Spec = {
  box: [612, 395, 800, 586],
  area: [670.7, 433, 778.3, 530],
  config: {
    type: "bar",
    data: {
      labels: iCats,
      datasets: [
        { label: "negative", data: iNegative, backgroundColor: "#ee3b2b", stack: "s", barPercentage: 1, categoryPercentage: 0.55 },
        { label: "positive", data: iPositive, backgroundColor: "#0e8a42", stack: "s", barPercentage: 1, categoryPercentage: 0.55 },
      ],
    },
    options: {
      indexAxis: "y",
      scales: {
        x: axis({ stacked: true, min: 0, max: 100, ticks: { stepSize: 50, padding: 5, callback: (v: number) => v + "%" } }),
        y: axis({ stacked: true, grid: { offset: true }, ticks: { padding: 6 } }),
      },
    },
  },
  errors: [{ ds: 0, lo: iErrLow, hi: iNegative, color: "#111", caps: "lo", cap: 3, horizontal: true, after: true }],
  rects: [
    { x: 682.5, y: 427, w: 5, h: 5.5, fill: "#ee3b2b" },
    { x: 732.5, y: 427, w: 5, h: 5.5, fill: "#0e8a42" },
  ],
  texts: [
    { t: "MM54", x: 644, y: 413.3, align: "center" },
    { t: "(0.5 10⁻⁶ M)", x: 643.3, y: 426, align: "center" },
    { t: "negative", x: 690, y: 431 },
    { t: "positive", x: 739.3, y: 431 },
    { t: "***", x: 727, y: 445.5, size: 9, weight: "bold", color: "#111", align: "center" },
    { t: "***", x: 704, y: 470, size: 9, weight: "bold", color: "#111", align: "center" },
    { t: "***", x: 712, y: 494, size: 9, weight: "bold", color: "#111", align: "center" },
    xTitle("ALDH activity-positive GSC#1", 725, 556.7),
    xTitle("(% of control)", 728, 568.3),
  ],
};

const panels: Spec[] = [panelA, panelScale, panelB, panelC, panelD1, panelD2, panelE, panelF, panelG, panelH, panelI1, panelI2, panelI3, panelI4, panelIBars];

export default function App() {
  return (
    <div style={{ position: "absolute", left: 0, top: 0, width: 800, height: 586, background: "#ffffff", overflow: "hidden", filter: "blur(0.35px)" }}>
      {panels.map((p, i) => (
        <Panel key={i} spec={p} />
      ))}
    </div>
  );
}
